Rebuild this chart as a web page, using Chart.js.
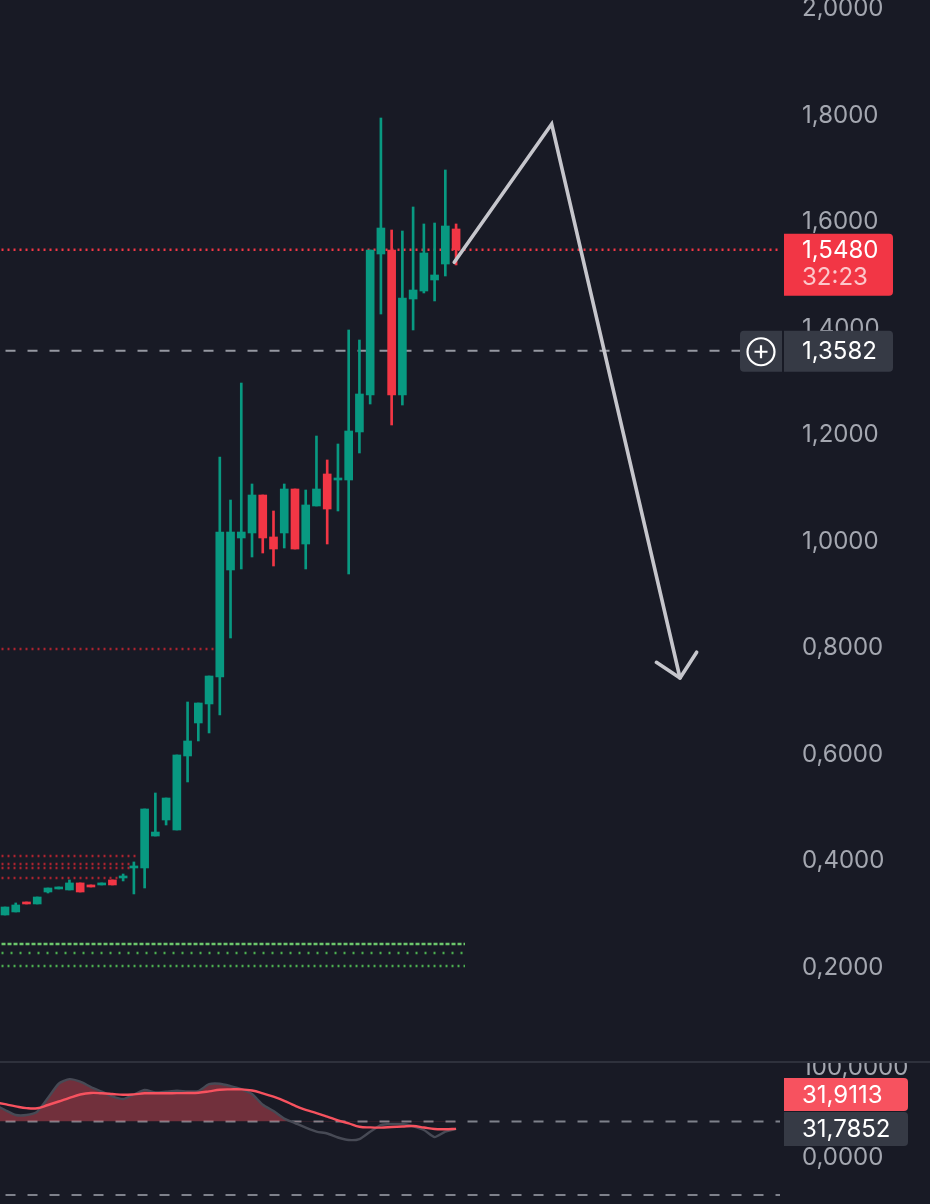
<!DOCTYPE html>
<html>
<head>
<meta charset="utf-8">
<script src="https://cdn.jsdelivr.net/npm/chart.js@4.4.1/dist/chart.umd.min.js"></script>
<style>
  html, body { margin:0; padding:0; background:#181a25; width:930px; height:1204px; overflow:hidden; }
  #main { position:absolute; left:0; top:0; width:930px; height:1061px; }
  #sep { position:absolute; left:0; top:1061px; width:930px; height:2px; background:#2e313c; }
  #ind { position:absolute; left:0; top:1063px; width:930px; height:141px; }
</style>
</head>
<body>
<div id="main"><canvas id="c1" width="930" height="1061"></canvas></div>
<div id="sep"></div>
<div id="ind"><canvas id="c2" width="930" height="141"></canvas></div>
<script>
// ---------- DATA ----------
const opens  = [0.2986,0.3043,0.3230,0.3193,0.3418,0.3475,0.3456,0.3588,0.3550,0.3550,0.3644,0.3681,0.3869,0.3869,0.4469,0.4770,0.4582,0.5972,0.6592,0.6949,0.7456,0.9465,1.0066,1.0160,1.0873,1.0085,1.0160,1.0986,0.9953,1.0667,1.1268,1.1155,1.1155,1.2057,1.2751,1.5399,1.5474,1.2751,1.4554,1.4704,1.4911,1.5211,1.5869];
const highs  = [0.3136,0.3212,0.3230,0.3324,0.3493,0.3512,0.3644,0.3588,0.3550,0.3588,0.3644,0.3756,0.3982,0.4977,0.5277,0.5183,0.5991,0.6986,0.6967,0.7474,1.1586,1.0779,1.2976,1.1080,1.0873,1.0573,1.1080,1.0986,1.0967,1.1981,1.1531,1.1831,1.3972,1.3784,1.5474,1.7953,1.5850,1.5831,1.6282,1.5963,1.5981,1.6977,1.5963];
const lows   = [0.2986,0.3043,0.3193,0.3193,0.3399,0.3475,0.3456,0.3418,0.3512,0.3550,0.3550,0.3625,0.3381,0.3493,0.4469,0.4676,0.4582,0.5484,0.6254,0.6404,0.6742,0.8188,0.9484,0.9709,0.9784,0.9540,0.9878,0.9859,0.9484,1.0667,0.9953,1.0573,0.9390,1.1662,1.2582,1.4272,1.2188,1.2563,1.3972,1.4667,1.4517,1.4986,1.5193];
const closes = [0.3136,0.3174,0.3193,0.3324,0.3493,0.3512,0.3588,0.3418,0.3512,0.3588,0.3550,0.3719,0.3907,0.4977,0.4544,0.5183,0.5991,0.6254,0.6967,0.7474,1.0178,1.0178,1.0178,1.0873,1.0066,0.9859,1.0986,0.9859,1.0686,1.0986,1.0610,1.1193,1.2075,1.2770,1.5474,1.5887,1.2751,1.4573,1.4723,1.5418,1.5005,1.5925,1.5480];

const priceTicks = [0.2,0.4,0.6,0.8,1.0,1.2,1.4,1.6,1.8,2.0];
const lastPrice = 1.5480;
const countdown = "32:23";
const crosshairPrice = 1.3582;

// horizontal levels (price values) and the bar index where each level ends
const redLevels      = [0.7982, 0.4094, 0.3944, 0.3869, 0.3681];
const redLevelEnds   = [19.65, 12.2, 11.64, 11.64, 10.7];
const greenLevels    = [0.2441, 0.2272, 0.2028];
const greenLevelEnd  = 42.83;

// drawn arrow (bar index, price)
const arrowX  = [41.83, 50.90, 62.85];
const arrowY  = [1.5243, 1.7840, 0.7437];
const headX   = [60.65, 62.85, 64.40];
const headY   = [0.7730, 0.7437, 0.7920];

// indicator panel (first value belongs to the bar before index 0)
const oscValues    = [59,53.0,47.4,47.4,51.1,66.4,82.4,87.5,84.7,78.7,73.7,68.3,65.3,70.3,75.4,72.7,73.5,74.5,73.9,74.2,81.9,82.4,79.8,76.5,70.9,58.9,51.8,43.4,38.4,33.4,28.9,26.7,22.2,19.4,20.5,28.7,36.2,37.3,37.3,34.7,30.6,22.7,28.7,31.79];
const signalValues = [62,59.5,57.1,55.1,54.9,58.6,62.5,66.6,70.3,72.1,71.7,70.9,70.0,70.5,71.7,71.7,71.7,71.9,72.0,72.3,73.8,75.7,76.1,76.1,74.8,71.7,67.9,63.3,57.8,53.1,49.6,45.6,41.4,38.1,34.3,33.5,33.3,33.9,34.5,35.1,33.4,31.7,31.5,31.91];
const indTicks = [0, 100];
const indUpper = 40;
const indLower = -42;
const signalLast = 31.9113;
const oscLast = 31.7852;

// ---------- STYLE / LAYOUT ----------
const UP = '#089981', DOWN = '#f23645';
const FONT = 'Inter, "Noto Sans", sans-serif';
const X_MIN = -0.4655, X_MAX = 72.16;
const AXIS_W = 150;
const fmt = v => Number(v).toFixed(4).replace('.', ',');

const idx = opens.map((_, i) => i);
const colors = idx.map(i => closes[i] >= opens[i] ? UP : DOWN);

function hline(value, xEnd, color, dash, width, order) {
  return {
    type: 'line', data: [{x: -2, y: value}, {x: xEnd, y: value}],
    borderColor: color, borderDash: dash, borderWidth: width,
    pointRadius: 0, fill: false, order: order, tension: 0
  };
}

const datasets = [];
datasets.push(hline(lastPrice, 80, DOWN, [2,4], 2.4, 5));
datasets.push(hline(crosshairPrice, 80, '#9598a1', [10,12], 2.2, 5));
redLevels.forEach((v, k) => datasets.push(hline(v, redLevelEnds[k], '#ab2430', [2,4], 2.4, 5)));
datasets.push(hline(greenLevels[0], greenLevelEnd, '#6cc76c', [4,2], 2.4, 5));
datasets.push(hline(greenLevels[1], greenLevelEnd, '#4caf50', [2,7], 2.4, 5));
datasets.push(hline(greenLevels[2], greenLevelEnd, '#4caf50', [2,4], 2.4, 5));

datasets.push({
  type: 'bar', data: idx.map(i => ({x: i, y: [lows[i], highs[i]]})),
  backgroundColor: colors, barThickness: 2, grouped: false, order: 3,
  borderWidth: 0, borderSkipped: false
});
datasets.push({
  type: 'bar', data: idx.map(i => ({x: i, y: [opens[i], closes[i]]})),
  backgroundColor: colors, barThickness: 8, grouped: false, order: 2,
  borderWidth: 0, borderSkipped: false, minBarLength: 2
});
datasets.push({
  type: 'line', data: arrowX.map((x, k) => ({x, y: arrowY[k]})),
  borderColor: '#c6c6cc', borderWidth: 3.6, pointRadius: 0, fill: false, order: 0,
  borderJoinStyle: 'miter', borderCapStyle: 'round'
});
datasets.push({
  type: 'line', data: headX.map((x, k) => ({x, y: headY[k]})),
  borderColor: '#c6c6cc', borderWidth: 3.6, pointRadius: 0, fill: false, order: 0,
  borderJoinStyle: 'round', borderCapStyle: 'round'
});

function roundRect(ctx, x, y, w, h, r, color) {
  ctx.fillStyle = color;
  ctx.beginPath();
  ctx.roundRect(x, y, w, h, r);
  ctx.fill();
}

const mainOverlay = {
  id: 'mainOverlay',
  afterDraw(chart) {
    const ctx = chart.ctx, ys = chart.scales.y;
    ctx.save();
    ctx.font = '24px ' + FONT;
    ctx.textBaseline = 'middle';
    ctx.textAlign = 'left';
    // last price label
    const yp = ys.getPixelForValue(lastPrice);
    roundRect(ctx, 784, yp - 16, 109, 62, [0,4,4,0], DOWN);
    ctx.fillStyle = '#ffffff';
    ctx.fillText(fmt(lastPrice), 802, yp + 1);
    ctx.fillStyle = 'rgba(255,255,255,0.72)';
    ctx.fillText(countdown, 802, yp + 28);
    // crosshair label
    const yc = ys.getPixelForValue(crosshairPrice);
    roundRect(ctx, 784, yc - 20, 109, 41, [0,4,4,0], '#363a45');
    roundRect(ctx, 740, yc - 20, 42, 41, [4,0,0,4], '#363a45');
    ctx.fillStyle = '#ffffff';
    ctx.fillText(fmt(crosshairPrice), 802, yc + 1);
    ctx.strokeStyle = '#ffffff';
    ctx.lineWidth = 2.2;
    ctx.beginPath(); ctx.arc(761, yc + 1, 13.5, 0, Math.PI * 2); ctx.stroke();
    ctx.beginPath();
    ctx.moveTo(754.5, yc + 1); ctx.lineTo(767.5, yc + 1);
    ctx.moveTo(761, yc - 5.5); ctx.lineTo(761, yc + 7.5);
    ctx.stroke();
    ctx.restore();
  }
};

new Chart(document.getElementById('c1'), {
  type: 'bar',
  data: { datasets },
  options: {
    responsive: false, animation: false,
    layout: { padding: 0 },
    plugins: { legend: { display: false }, tooltip: { enabled: false } },
    scales: {
      x: { type: 'linear', min: X_MIN, max: X_MAX, display: false, offset: false },
      y: {
        position: 'right', min: 0.0244, max: 2.0169,
        grid: { display: false, drawTicks: false }, border: { display: false },
        afterBuildTicks: s => { s.ticks = priceTicks.map(v => ({ value: v })); },
        afterFit: s => { s.width = AXIS_W; s.paddingTop = 0; s.paddingBottom = 0; },
        ticks: { padding: 22, color: '#a4a7b0', font: { family: FONT, size: 24 }, callback: v => fmt(v) }
      }
    }
  },
  plugins: [mainOverlay]
});

// ---------- indicator ----------
const indIdx = oscValues.map((_, i) => i - 1);
const indOverlay = {
  id: 'indOverlay',
  afterDraw(chart) {
    const ctx = chart.ctx, ys = chart.scales.y;
    ctx.save();
    ctx.font = '24px ' + FONT;
    ctx.textBaseline = 'middle';
    ctx.textAlign = 'left';
    const yg = ys.getPixelForValue(oscLast);
    const gTop = yg - 17;
    roundRect(ctx, 784, gTop, 124, 34, [0,4,4,0], '#363a45');
    roundRect(ctx, 784, gTop - 34, 124, 33, [0,4,4,0], '#f7525f');
    ctx.fillStyle = '#ffffff';
    ctx.fillText(fmt(oscLast), 802, gTop + 18);
    ctx.fillText(fmt(signalLast), 802, gTop - 16);
    ctx.restore();
  }
};

new Chart(document.getElementById('c2'), {
  type: 'line',
  data: {
    datasets: [
      {
        data: indIdx.map((x, k) => ({x, y: oscValues[k]})),
        borderColor: '#474a55', borderWidth: 2.4, pointRadius: 0, tension: 0.2,
        fill: { target: { value: indUpper }, above: 'rgba(247,82,95,0.40)', below: 'rgba(0,0,0,0)' },
        order: 2
      },
      {
        data: indIdx.map((x, k) => ({x, y: signalValues[k]})),
        borderColor: '#f7525f', borderWidth: 2.4, pointRadius: 0, tension: 0.4, fill: false, order: 1
      },
      {
        data: [{x: -2, y: indUpper}, {x: 80, y: indUpper}],
        borderColor: '#7e818b', borderDash: [10,12], borderWidth: 2, pointRadius: 0, fill: false, order: 3
      },
      {
        data: [{x: -2, y: indLower}, {x: 80, y: indLower}],
        borderColor: '#7e818b', borderDash: [10,12], borderWidth: 2, pointRadius: 0, fill: false, order: 3
      }
    ]
  },
  options: {
    responsive: false, animation: false,
    layout: { padding: 0 },
    plugins: { legend: { display: false }, tooltip: { enabled: false } },
    scales: {
      x: { type: 'linear', min: X_MIN, max: X_MAX, display: false },
      y: {
        position: 'right', min: -52.2, max: 105.6,
        grid: { display: false, drawTicks: false }, border: { display: false },
        afterBuildTicks: s => { s.ticks = indTicks.map(v => ({ value: v })); },
        afterFit: s => { s.width = AXIS_W; s.paddingTop = 0; s.paddingBottom = 0; },
        ticks: { padding: 22, color: '#a4a7b0', font: { family: FONT, size: 24 }, callback: v => fmt(v) }
      }
    }
  },
  plugins: [indOverlay]
});
</script>
</body>
</html>
